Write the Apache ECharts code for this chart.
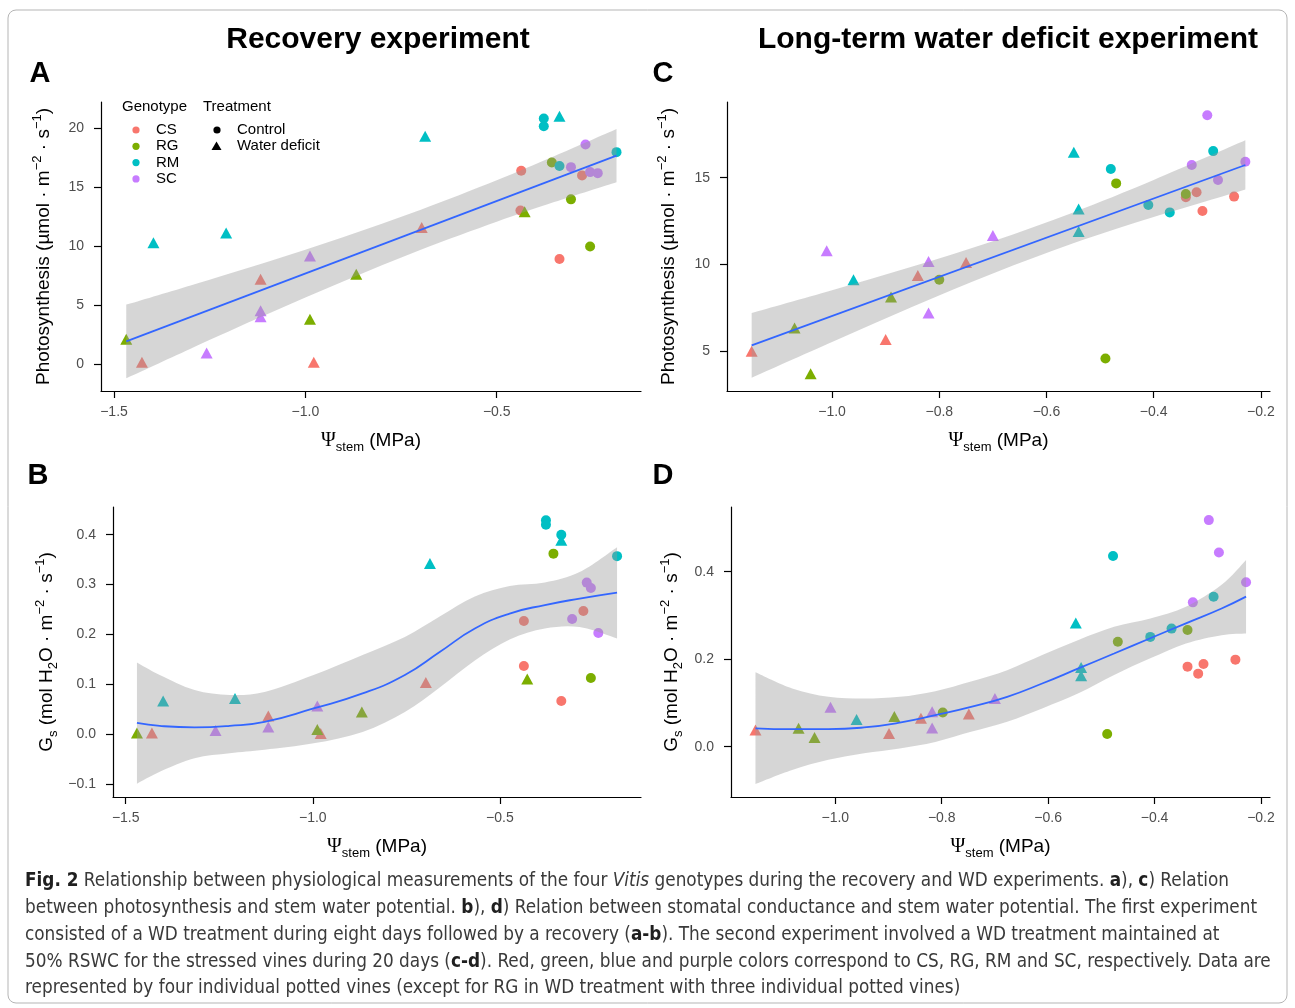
<!DOCTYPE html>
<html>
<head>
<meta charset="utf-8">
<title>Fig. 2 - Vitis genotypes</title>
<script src="https://cdn.jsdelivr.net/npm/echarts@6/dist/echarts.min.js"></script>
<style>
  html, body { margin: 0; padding: 0; background: #fff; }
  #chart { width: 1295px; height: 1008px; }
</style>
</head>
<body>
<div id="chart"></div>
<script>
// genotypes and ggplot default hue colours
var genotypes = ['CS', 'RG', 'RM', 'SC'];
var genoColors = ['#F8766D', '#7CAE00', '#00BFC4', '#C77CFF'];
var treatments = ['C', 'W'];   // C = Control, W = Water deficit

// A - recovery experiment, photosynthesis
var aPsi   = [-0.377, -0.377, -0.187, -0.336, -0.356, -0.306, -0.256, -0.436, -0.277, -0.438, -0.336, -0.268, -0.306, -0.256, -0.236,
              -0.336, -0.687, -1.397, -1.207, -0.696, -1.117, -1.427, -0.978, -0.427, -0.867, -0.988, -1.468, -0.988, -1.117, -1.117, -1.258];
var aPhoto = [20.8, 20.14, 17.95, 16.77, 17.07, 13.95, 9.96, 16.37, 15.98, 13.0, 8.89, 18.6, 16.68, 16.26, 16.17,
              21.0, 19.3, 10.27, 11.1, 11.56, 7.17, 0.14, 0.14, 12.9, 7.6, 3.8, 2.1, 9.14, 4.5, 4.0, 0.93];
var aGeno  = ['RM', 'RM', 'RM', 'RM', 'RG', 'RG', 'RG', 'CS', 'CS', 'CS', 'CS', 'SC', 'SC', 'SC', 'SC',
              'RM', 'RM', 'RM', 'RM', 'CS', 'CS', 'CS', 'CS', 'RG', 'RG', 'RG', 'RG', 'SC', 'SC', 'SC', 'SC'];
var aTrt   = ['C', 'C', 'C', 'C', 'C', 'C', 'C', 'C', 'C', 'C', 'C', 'C', 'C', 'C', 'C',
              'W', 'W', 'W', 'W', 'W', 'W', 'W', 'W', 'W', 'W', 'W', 'W', 'W', 'W', 'W', 'W'];
var aBandPsi = [-1.468, -1.3, -1.1, -0.9, -0.7, -0.5, -0.35, -0.187];
var aBandLo  = [-1.21, 1.30, 4.21, 7.02, 9.65, 12.05, 13.72, 15.41];
var aBandHi  = [5.03, 6.66, 8.65, 10.76, 13.05, 15.57, 17.60, 19.91];
var aFitPsi  = [-1.468, -0.187];
var aFit     = [1.91, 17.66];

// B - recovery experiment, stomatal conductance
var bPsi  = [-0.377, -0.377, -0.336, -0.187, -0.357, -0.257, -0.277, -0.436, -0.436, -0.336, -0.268, -0.257, -0.307, -0.237,
             -0.336, -0.687, -1.400, -1.208, -0.698, -1.119, -0.979, -1.430, -0.427, -0.869, -0.988, -1.470, -0.988, -1.119, -1.260];
var bGs   = [0.429, 0.420, 0.400, 0.357, 0.362, 0.113, 0.247, 0.227, 0.137, 0.067, 0.304, 0.293, 0.231, 0.203,
             0.389, 0.342, 0.067, 0.072, 0.104, 0.037, 0.002, 0.003, 0.111, 0.045, 0.010, 0.003, 0.057, 0.015, 0.008];
var bGeno = ['RM', 'RM', 'RM', 'RM', 'RG', 'RG', 'CS', 'CS', 'CS', 'CS', 'SC', 'SC', 'SC', 'SC',
             'RM', 'RM', 'RM', 'RM', 'CS', 'CS', 'CS', 'CS', 'RG', 'RG', 'RG', 'RG', 'SC', 'SC', 'SC'];
var bTrt  = ['C', 'C', 'C', 'C', 'C', 'C', 'C', 'C', 'C', 'C', 'C', 'C', 'C', 'C',
             'W', 'W', 'W', 'W', 'W', 'W', 'W', 'W', 'W', 'W', 'W', 'W', 'W', 'W', 'W'];
var bSmoothPsi = [-1.470, -1.409, -1.316, -1.222, -1.129, -0.998, -0.867, -0.754, -0.661, -0.567, -0.474, -0.380, -0.287, -0.187];
var bFit  = [0.023, 0.017, 0.014, 0.017, 0.025, 0.052, 0.082, 0.119, 0.165, 0.212, 0.242, 0.259, 0.272, 0.284];
var bHi   = [0.144, 0.119, 0.089, 0.079, 0.085, 0.119, 0.159, 0.195, 0.236, 0.276, 0.297, 0.304, 0.325, 0.375];
var bLo   = [-0.099, -0.075, -0.048, -0.038, -0.031, -0.018, 0.005, 0.045, 0.094, 0.148, 0.190, 0.212, 0.215, 0.192];

// C - long-term water deficit, photosynthesis
var cPsi   = [-0.300, -0.329, -0.229, -0.280, -0.289, -0.480, -0.410, -0.370, -0.470, -0.340, -0.800, -0.490, -0.340, -0.320, -0.250, -0.309,
              -0.549, -0.540, -0.540, -0.960, -0.700, -1.010, -0.820, -0.820, -0.750, -0.840, -0.900, -1.150, -0.890, -1.070, -1.040];
var cPhoto = [18.6, 15.73, 15.92, 14.87, 16.53, 15.50, 13.43, 13.0, 14.67, 14.06, 9.12, 4.58, 13.87, 14.16, 13.91, 13.08,
              16.46, 13.2, 11.9, 9.12, 11.67, 10.79, 10.17, 7.20, 10.11, 9.37, 5.67, 5.0, 8.12, 6.34, 3.70];
var cGeno  = ['SC', 'SC', 'SC', 'SC', 'RM', 'RM', 'RM', 'RM', 'RG', 'RG', 'RG', 'RG', 'CS', 'CS', 'CS', 'CS',
              'RM', 'RM', 'RM', 'RM', 'SC', 'SC', 'SC', 'SC', 'CS', 'CS', 'CS', 'CS', 'RG', 'RG', 'RG'];
var cTrt   = ['C', 'C', 'C', 'C', 'C', 'C', 'C', 'C', 'C', 'C', 'C', 'C', 'C', 'C', 'C', 'C',
              'W', 'W', 'W', 'W', 'W', 'W', 'W', 'W', 'W', 'W', 'W', 'W', 'W', 'W', 'W'];
var cBandPsi = [-1.15, -1.0, -0.85, -0.7, -0.55, -0.4, -0.229];
var cBandLo  = [3.48, 5.54, 7.56, 9.48, 11.22, 12.73, 14.32];
var cBandHi  = [7.21, 8.52, 9.88, 11.34, 13.0, 14.87, 17.15];
var cFitPsi  = [-1.15, -0.229];
var cFit     = [5.34, 15.73];

// D - long-term water deficit, stomatal conductance
var dPsi  = [-0.298, -0.279, -0.228, -0.328, -0.478, -0.289, -0.368, -0.408, -0.338, -0.469, -0.798, -0.489, -0.248, -0.308, -0.338, -0.318,
             -0.548, -0.538, -0.538, -0.960, -0.700, -1.009, -0.818, -0.818, -0.749, -0.839, -0.899, -1.150, -0.889, -1.069, -1.039];
var dGs   = [0.518, 0.444, 0.376, 0.330, 0.436, 0.343, 0.270, 0.251, 0.267, 0.240, 0.078, 0.029, 0.199, 0.189, 0.183, 0.167,
             0.283, 0.181, 0.162, 0.062, 0.110, 0.090, 0.080, 0.043, 0.075, 0.065, 0.030, 0.038, 0.069, 0.042, 0.021];
var dGeno = ['SC', 'SC', 'SC', 'SC', 'RM', 'RM', 'RM', 'RM', 'RG', 'RG', 'RG', 'RG', 'CS', 'CS', 'CS', 'CS',
             'RM', 'RM', 'RM', 'RM', 'SC', 'SC', 'SC', 'SC', 'CS', 'CS', 'CS', 'CS', 'RG', 'RG', 'RG'];
var dTrt  = ['C', 'C', 'C', 'C', 'C', 'C', 'C', 'C', 'C', 'C', 'C', 'C', 'C', 'C', 'C', 'C',
             'W', 'W', 'W', 'W', 'W', 'W', 'W', 'W', 'W', 'W', 'W', 'W', 'W', 'W', 'W'];
var dSmoothPsi = [-1.150, -1.081, -1.013, -0.946, -0.879, -0.812, -0.745, -0.677, -0.610, -0.543, -0.476, -0.408, -0.341, -0.274, -0.228];
var dFit  = [0.042, 0.040, 0.040, 0.044, 0.055, 0.072, 0.091, 0.114, 0.145, 0.179, 0.213, 0.248, 0.282, 0.316, 0.343];
var dHi   = [0.170, 0.133, 0.114, 0.110, 0.114, 0.127, 0.149, 0.175, 0.210, 0.244, 0.274, 0.293, 0.320, 0.370, 0.427];
var dLo   = [-0.085, -0.053, -0.030, -0.015, -0.004, 0.011, 0.034, 0.057, 0.088, 0.122, 0.164, 0.202, 0.236, 0.255, 0.259];

// tick labels
var abXTicks = [-1.5, -1.0, -0.5];
var cdXTicks = [-1.0, -0.8, -0.6, -0.4, -0.2];
var aYTicks = [0, 5, 10, 15, 20];
var bYTicks = [-0.1, 0.0, 0.1, 0.2, 0.3, 0.4];
var cYTicks = [5, 10, 15];
var dYTicks = [0.0, 0.2, 0.4];

var FONT = '"Liberation Sans", Arial, Helvetica, sans-serif';
var photoName = 'Photosynthesis (µmol · m{sup|−2} · s{sup|−1})';
var gsName = 'G{sub|s} (mol H{sub|2}O · m{sup|−2} · s{sup|−1})';

var panels = [
    { grid: { left: 101, top: 102, width: 540, height: 289 }, x: [-1.534, -0.123], y: [-2.29, 22.2],
      xTicks: abXTicks, yTicks: aYTicks, yDec: 0, yName: photoName, yGap: 44,
      pts: [aPsi, aPhoto, aGeno, aTrt], band: [aBandPsi, aBandLo, aBandHi], fit: [aFitPsi, aFit], smooth: false },
    { grid: { left: 113, top: 507, width: 528, height: 290 }, x: [-1.534, -0.123], y: [-0.1254, 0.4554],
      xTicks: abXTicks, yTicks: bYTicks, yDec: 1, yName: gsName, yGap: 53,
      pts: [bPsi, bGs, bGeno, bTrt], band: [bSmoothPsi, bLo, bHi], fit: [bSmoothPsi, bFit], smooth: true },
    { grid: { left: 727, top: 102, width: 543, height: 289 }, x: [-1.196, -0.183], y: [2.71, 19.36],
      xTicks: cdXTicks, yTicks: cYTicks, yDec: 0, yName: photoName, yGap: 45,
      pts: [cPsi, cPhoto, cGeno, cTrt], band: [cBandPsi, cBandLo, cBandHi], fit: [cFitPsi, cFit], smooth: false },
    { grid: { left: 731, top: 507, width: 539, height: 290 }, x: [-1.196, -0.183], y: [-0.115, 0.548],
      xTicks: cdXTicks, yTicks: dYTicks, yDec: 1, yName: gsName, yGap: 46,
      pts: [dPsi, dGs, dGeno, dTrt], band: [dSmoothPsi, dLo, dHi], fit: [dSmoothPsi, dFit], smooth: true }
];

function fmt(dec) {
    return function (v) {
        var s = Math.abs(v).toFixed(dec);
        return (v < -1e-9 ? '−' : '') + s;
    };
}

// Catmull-Rom through pixel points, as cubic bezier path segments
function curveThrough(pts) {
    var d = '';
    for (var i = 0; i < pts.length - 1; i++) {
        var p0 = pts[i - 1] || pts[i], p1 = pts[i], p2 = pts[i + 1], p3 = pts[i + 2] || p2;
        var c1 = [p1[0] + (p2[0] - p0[0]) / 6, p1[1] + (p2[1] - p0[1]) / 6];
        var c2 = [p2[0] - (p3[0] - p1[0]) / 6, p2[1] - (p3[1] - p1[1]) / 6];
        d += ' C' + c1[0] + ',' + c1[1] + ' ' + c2[0] + ',' + c2[1] + ' ' + p2[0] + ',' + p2[1];
    }
    return d;
}

function ribbonRenderer(bx, lo, hi) {
    return function (params, api) {
        if (params.dataIndex !== 0) return;
        var up = bx.map(function (x, j) { return api.coord([x, hi[j]]); });
        var dn = bx.map(function (x, j) { return api.coord([x, lo[j]]); }).reverse();
        var d = 'M' + up[0][0] + ',' + up[0][1] + curveThrough(up) +
                ' L' + dn[0][0] + ',' + dn[0][1] + curveThrough(dn) + ' Z';
        return {
            type: 'path',
            shape: { pathData: d },
            style: { fill: 'rgba(153,153,153,0.4)', stroke: null }
        };
    };
}

var axisLineStyle = { color: '#000', width: 1.2 };
var nameRich = {
    sub: { fontSize: 13, fontFamily: FONT, lineHeight: 12, verticalAlign: 'bottom', color: '#000' },
    sup: { fontSize: 13, fontFamily: FONT, lineHeight: 12, verticalAlign: 'top', color: '#000' },
    psi: { fontSize: 20, fontFamily: '"Liberation Serif", "DejaVu Serif", serif', color: '#000' }
};

var grids = [], xAxes = [], yAxes = [], series = [];

panels.forEach(function (p, i) {
    grids.push(p.grid);
    xAxes.push({
        type: 'value', gridIndex: i, min: p.x[0], max: p.x[1],
        name: '{psi|Ψ}{sub|stem} (MPa)', nameLocation: 'middle', nameGap: 37,
        nameTextStyle: { fontSize: 19, fontFamily: FONT, color: '#000', lineHeight: 26, rich: nameRich },
        axisLine: { onZero: false, lineStyle: axisLineStyle },
        axisTick: { customValues: p.xTicks, length: 7, lineStyle: axisLineStyle },
        axisLabel: { customValues: p.xTicks, formatter: fmt(1), margin: 14, fontSize: 14, fontFamily: FONT, color: '#4D4D4D' },
        splitLine: { show: false }
    });
    yAxes.push({
        type: 'value', gridIndex: i, min: p.y[0], max: p.y[1],
        name: p.yName, nameLocation: 'middle', nameGap: p.yGap, nameRotate: 90,
        nameTextStyle: { fontSize: 19, fontFamily: FONT, color: '#000', lineHeight: 26, rich: nameRich },
        axisLine: { onZero: false, lineStyle: axisLineStyle },
        axisTick: { customValues: p.yTicks, length: 7, lineStyle: axisLineStyle },
        axisLabel: { customValues: p.yTicks, formatter: fmt(p.yDec), margin: 17, fontSize: 14, fontFamily: FONT, color: '#4D4D4D' },
        splitLine: { show: false }
    });

    // points, drawn first so the confidence ribbon sits on top of them
    treatments.forEach(function (t) {
        genotypes.forEach(function (g, k) {
            var data = [];
            for (var j = 0; j < p.pts[0].length; j++) {
                if (p.pts[2][j] === g && p.pts[3][j] === t) data.push([p.pts[0][j], p.pts[1][j]]);
            }
            series.push({
                type: 'scatter', name: g + '-' + t, xAxisIndex: i, yAxisIndex: i, data: data,
                symbol: t === 'C' ? 'circle' : 'triangle',
                symbolSize: t === 'C' ? 10 : [12, 11],
                itemStyle: { color: genoColors[k], opacity: 1 },
                z: 1, silent: true
            });
        });
    });

    // confidence ribbon
    var bx = p.band[0], lo = p.band[1], hi = p.band[2];
    series.push({
        type: 'custom', xAxisIndex: i, yAxisIndex: i, z: 2, silent: true, clip: true,
        data: bx.map(function (x, j) { return [x, lo[j], hi[j]]; }),
        encode: { x: 0, y: [1, 2] },
        renderItem: ribbonRenderer(bx, lo, hi)
    });
    // fitted line
    series.push({
        type: 'line', xAxisIndex: i, yAxisIndex: i,
        data: p.fit[0].map(function (x, j) { return [x, p.fit[1][j]]; }),
        symbol: 'none', smooth: p.smooth, lineStyle: { color: '#3366FF', width: 1.8 }, z: 3, silent: true
    });
});

// caption font size fitted to the widths of its lines in the figure
var capFont = '"Liberation Sans Narrow", "DejaVu Sans Condensed", "Liberation Sans", sans-serif';
var capLines = [
    '{b|Fig. 2} Relationship between physiological measurements of the four {i|Vitis} genotypes during the recovery and WD experiments. {b|a}), {b|c}) Relation',
    'between photosynthesis and stem water potential. {b|b}), {b|d}) Relation between stomatal conductance and stem water potential. The first experiment',
    'consisted of a WD treatment during eight days followed by a recovery ({b|a-b}). The second experiment involved a WD treatment maintained at',
    '50% RSWC for the stressed vines during 20 days ({b|c-d}). Red, green, blue and purple colors correspond to CS, RG, RM and SC, respectively. Data are',
    'represented by four individual potted vines (except for RG in WD treatment with three individual potted vines)'
];
var capWidths = [1215, 1245, 1212, 1246, 951];
var ctx = document.createElement('canvas').getContext('2d');
ctx.font = '20px ' + capFont;
var capSize = 40;
capLines.forEach(function (line, k) {
    var w = ctx.measureText(line.replace(/\{[a-z]+\|([^}]*)\}/g, '$1')).width;
    capSize = Math.min(capSize, 20 * capWidths[k] / w);
});
capSize = Math.floor(capSize * 10) / 10;

function txt(text, x, y, size, weight, align) {
    return {
        type: 'text', x: x, y: y, silent: true,
        style: { text: text, fontSize: size, fontWeight: weight || 'normal', fontFamily: FONT, fill: '#000',
                 align: align || 'left', textAlign: align || 'left', verticalAlign: 'middle', textVerticalAlign: 'middle' }
    };
}

var graphics = [
    { type: 'rect', silent: true, shape: { x: 8, y: 10, width: 1279, height: 993, r: 8 },
      style: { fill: 'none', stroke: '#b5b5b5', lineWidth: 1 } },
    txt('Recovery experiment', 378, 40, 30, 'bold', 'center'),
    txt('Long-term water deficit experiment', 1008, 40, 30, 'bold', 'center'),
    txt('A', 40, 74, 29, 'bold', 'center'),
    txt('B', 38, 476, 29, 'bold', 'center'),
    txt('C', 663, 74, 29, 'bold', 'center'),
    txt('D', 663, 476, 29, 'bold', 'center'),
    txt('Genotype', 122, 107, 15),
    txt('Treatment', 203, 107, 15),
    txt('Control', 237, 130, 15),
    txt('Water deficit', 237, 146, 15),
    { type: 'circle', silent: true, shape: { cx: 217, cy: 130, r: 3.6 }, style: { fill: '#000' } },
    { type: 'polygon', silent: true, shape: { points: [[211.5, 150], [221.5, 150], [216.5, 141.5]] }, style: { fill: '#000' } },
    {
        type: 'text', x: 25, y: 868, silent: true,
        style: {
            text: capLines.join('\n'), fontSize: capSize, fontFamily: capFont, fill: '#3a3a3a', lineHeight: 26.8,
            align: 'left', textAlign: 'left', verticalAlign: 'top', textVerticalAlign: 'top',
            rich: {
                b: { fontWeight: 'bold', fontSize: capSize, fontFamily: capFont, fill: '#1f1f1f', lineHeight: 26.8 },
                i: { fontStyle: 'italic', fontSize: capSize, fontFamily: capFont, fill: '#3a3a3a', lineHeight: 26.8 }
            }
        }
    }
];
genotypes.forEach(function (g, k) {
    var y = 130 + k * 16.3;
    graphics.push({ type: 'circle', silent: true, shape: { cx: 136, cy: y, r: 3.6 }, style: { fill: genoColors[k] } });
    graphics.push(txt(g, 156, y, 15));
});

var chart = echarts.init(document.getElementById('chart'), null, { renderer: 'canvas' });
chart.setOption({
    backgroundColor: '#fff',
    animation: false,
    grid: grids,
    xAxis: xAxes,
    yAxis: yAxes,
    series: series,
    graphic: graphics
});
</script>
</body>
</html>
